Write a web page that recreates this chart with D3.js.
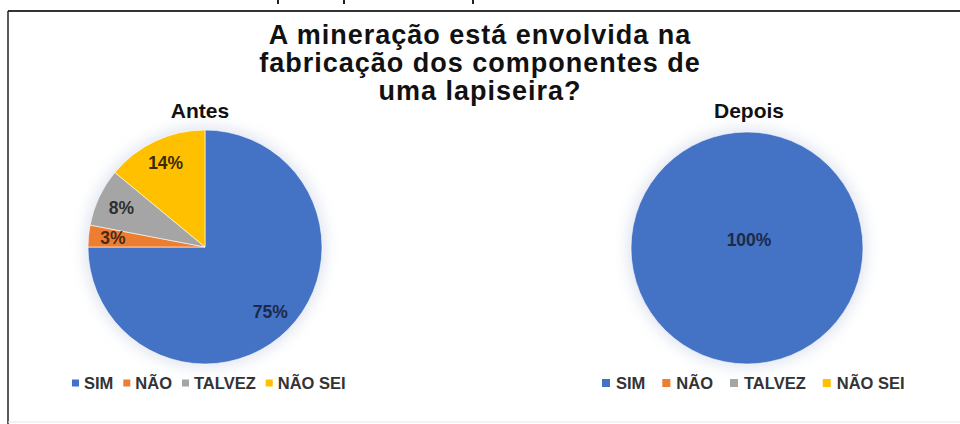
<!DOCTYPE html>
<html><head><meta charset="utf-8">
<script src="https://cdn.jsdelivr.net/npm/d3@7"></script>
<style>body{margin:0;background:#fff}svg{display:block}text{font-family:"Liberation Sans",Arial,sans-serif}</style>
</head><body>
<svg id="c" width="960" height="424"></svg>
<script>
const titleLines = ["A mineração está envolvida na", "fabricação dos componentes de", "uma lapiseira?"];
const categories = ["SIM", "NÃO", "TALVEZ", "NÃO SEI"];
const colors = ["#4472C4", "#ED7D31", "#A5A5A5", "#FFC000"];
const labelColors = ["#1c2a4a", "#4a2a12", "#2f2f2f", "#3a2a08"];
const antesValues = [75, 3, 8, 14];
const depoisValues = [100, 0, 0, 0];
const panelTitles = ["Antes", "Depois"];

const svg = d3.select("#c");
const defs = svg.append("defs");
defs.append("filter").attr("id","glow").attr("x","-30%").attr("y","-30%").attr("width","160%").attr("height","160%")
  .append("feGaussianBlur").attr("stdDeviation", 7);

// frame
svg.append("line").attr("x1",8).attr("x2",960).attr("y1",11).attr("y2",11).attr("stroke","#333").attr("stroke-width",2);
svg.append("line").attr("x1",8).attr("x2",8).attr("y1",11).attr("y2",424).attr("stroke","#222").attr("stroke-width",1.5);
svg.append("line").attr("x1",8).attr("x2",960).attr("y1",422).attr("y2",422).attr("stroke","#e6e6e6").attr("stroke-width",1);
// clipped descenders from text above
[277, 343, 472].forEach(x => svg.append("rect").attr("x",x).attr("y",0).attr("width",2).attr("height",4).attr("fill","#222"));

// title
svg.append("text").attr("text-anchor","middle").attr("font-size",27).attr("font-weight","bold").attr("fill","#111")
  .attr("letter-spacing",1.0)
  .selectAll("tspan").data(titleLines).join("tspan")
  .attr("x",480).attr("y",(d,i)=>44+i*28).text(d=>d);

function drawPie(values, cx, cy, r, title, legendX, legend) {
  const g = svg.append("g").attr("transform",`translate(${cx},${cy})`);
  g.append("circle").attr("r", r+4).attr("fill","#c9d2e4").attr("opacity",0.55).attr("filter","url(#glow)");
  const data = categories.map((c,i)=>({cat:c, value:values[i], color:colors[i], lc:labelColors[i]}));
  const pie = d3.pie().value(d=>d.value).sort(null);
  const arcs = pie(data);
  const arc = d3.arc().innerRadius(0).outerRadius(r);
  const labelArc = d3.arc().innerRadius(r*0.79).outerRadius(r*0.79);
  g.selectAll("path").data(arcs.filter(a=>a.value>0)).join("path")
    .attr("d", arc).attr("fill", d=>d.data.color).attr("stroke","#fff").attr("stroke-width",0.6);
  g.selectAll("text.lbl").data(arcs.filter(a=>a.value>0)).join("text").attr("class","lbl")
    .attr("transform", d => {
      if (d.value === 100) return "translate(2,-8)";
      const [x,y] = labelArc.centroid(d); return `translate(${x},${y})`;
    })
    .attr("text-anchor","middle").attr("dy","0.35em").attr("font-size",17.5).attr("font-weight","bold")
    .attr("fill", d=>d.data.lc).text(d=>d.value+"%");
  svg.append("text").attr("x", cx + (title==="Antes"?-5:2)).attr("y",118).attr("text-anchor","middle")
    .attr("font-size",21).attr("font-weight","bold").attr("fill","#111").text(title);
  // legend
  const lg = svg.append("g").attr("transform",`translate(${legendX},383)`);
  let x = 0;
  data.forEach(d => {
    lg.append("rect").attr("x",x).attr("y",-legend.m/2).attr("width",legend.m).attr("height",legend.m).attr("fill",d.color);
    x += legend.m + legend.g1;
    const t = lg.append("text").attr("x",x).attr("dy","0.36em").attr("font-size",16.5).attr("font-weight","bold")
      .attr("fill","#333").text(d.cat);
    x += t.node().getComputedTextLength() + legend.g2;
  });
}
drawPie(antesValues, 205, 247, 117, panelTitles[0], 72, {m:7, g1:5, g2:10});
drawPie(depoisValues, 747, 248, 116, panelTitles[1], 602, {m:8, g1:6, g2:17});
</script>
</body></html>
